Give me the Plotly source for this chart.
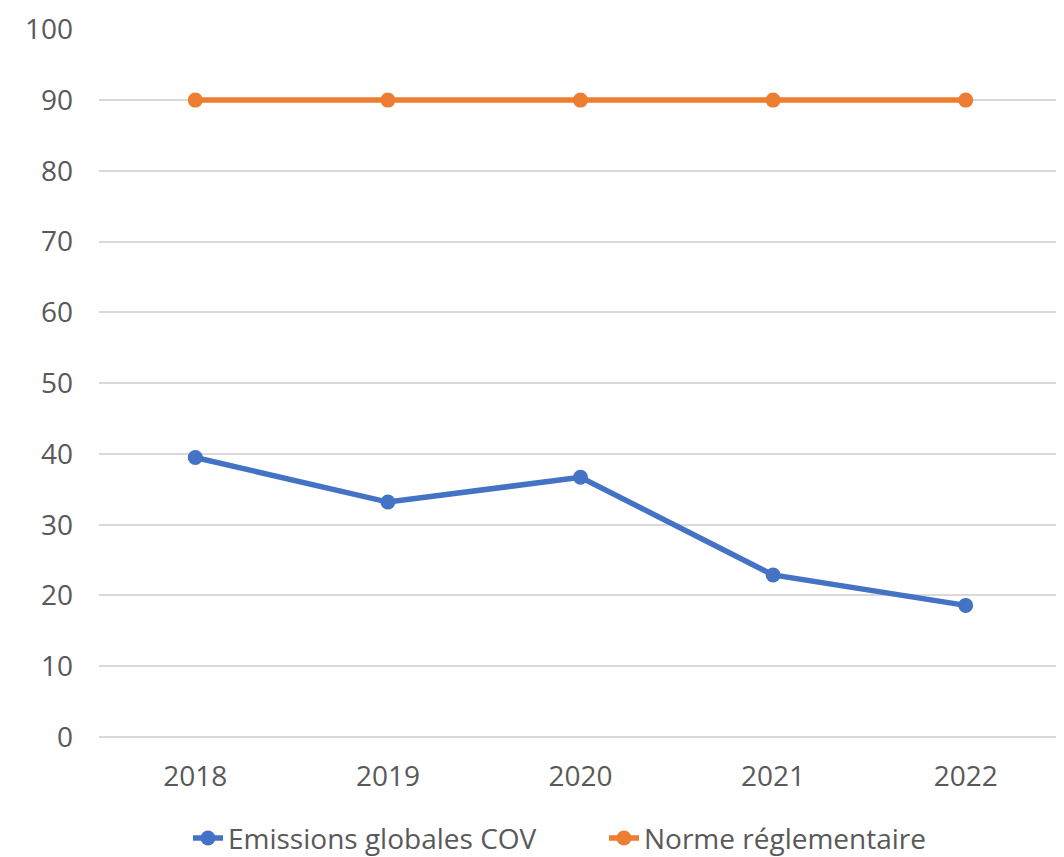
import plotly.graph_objects as go

years = ["2018", "2019", "2020", "2021", "2022"]
emissions = [39.5, 33.2, 36.7, 22.9, 18.6]
norme = [90, 90, 90, 90, 90]
y_ticks = [0, 10, 20, 30, 40, 50, 60, 70, 80, 90, 100]

fig = go.Figure()
fig.add_trace(go.Scatter(
    x=years, y=emissions, name="Emissions globales COV", mode="lines+markers",
    line=dict(color="#4472C4", width=5.5), marker=dict(size=15, color="#4472C4")))
fig.add_trace(go.Scatter(
    x=years, y=norme, name="Norme réglementaire", mode="lines+markers",
    line=dict(color="#ED7D31", width=5.5), marker=dict(size=15, color="#ED7D31")))

font = dict(family="Open Sans, Noto Sans, sans-serif", size=28, color="#595959")
fig.update_layout(
    width=1056, height=849,
    margin=dict(l=91, r=2, t=21, b=120, autoexpand=False),
    paper_bgcolor="white", plot_bgcolor="white",
    font=font,
    showlegend=True,
    legend=dict(orientation="h", x=0.0924, xanchor="left", y=-0.143, yanchor="middle",
                font=font, entrywidth=371, entrywidthmode="pixels", traceorder="normal"),
    xaxis=dict(type="category", range=[-0.5, 4.5], showgrid=False, showline=False,
               zeroline=False, ticks="", tickfont=font, ticklabelstandoff=20),
    yaxis=dict(range=[0, 100.05], tickvals=y_ticks, showgrid=True, gridcolor="#D9D9D9",
               gridwidth=1.5, zeroline=True, zerolinecolor="#D9D9D9", zerolinewidth=1.5,
               showline=False, ticks="", tickfont=font, ticklabelstandoff=25,
               ticklabeloverflow="allow"),
)
fig.write_html("out.html")
